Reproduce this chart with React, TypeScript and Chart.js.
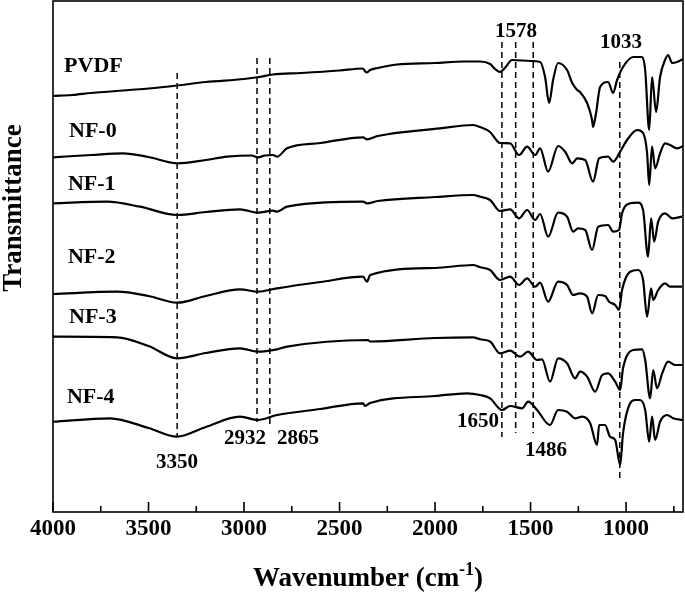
import React, { useEffect, useRef } from "react";
import { Chart, registerables } from "chart.js";

Chart.register(...registerables);

// ---- Data (x: wavenumber cm-1, y: transmittance, arbitrary offset units) ----
const pvdfWn = [4000,3900,3800,3700,3600,3500,3350,3200,3000,2920,2850,2700,2500,2380,2358,2340,2300,2200,2000,1850,1764,1712,1686,1660,1630,1597,1500,1450,1424,1403,1382,1356,1309,1282,1256,1241,1204,1178,1173,1157,1136,1094,1068,1047,1016,963,916,900,879,864,843,822,796,780,759,733,701];
const pvdfT = [416,417,419,420.5,422,423.5,426.5,430,433,435,437.5,439,441.5,443.5,439.5,442,444,447.5,449,450.5,450.5,448,443,440,445,452,451,450,435,409,432,449,442,429,422,420,409,392,385,399,425,430,419,432,445,455,455,442,382,435,400,435,452,457,449,450,453];

const nf0Wn = [4000,3800,3633,3500,3351,3200,3089,2960,2927,2890,2848,2827,2775,2600,2377,2356,2300,1974,1801,1764,1712,1660,1607,1560,1518,1476,1450,1408,1356,1319,1282,1256,1214,1173,1141,1094,1068,1031,995,942,911,890,879,864,848,822,796,770,733,701];
const nf0T = [354.7,357,358.7,355,348.7,352,355.3,356.5,354.7,356.5,357,355.3,363.7,369,374.7,372.7,376,383.7,387,385,380,369,368.7,357,365.3,357,363.7,340.3,366,360.3,348.7,353.7,352,330.3,353.7,355.3,350.3,360.3,372,382,379,359,327,365.3,343.7,358.7,368.7,367,363.7,366];

const nf1Wn = [4000,3717,3544,3351,3200,3021,2927,2848,2827,2775,2377,2356,2300,2000,1801,1764,1712,1660,1607,1560,1518,1476,1450,1408,1356,1309,1277,1251,1214,1178,1146,1094,1068,1037,1021,979,937,911,885,869,853,832,796,759,707];
const nf1T = [308.7,310.3,305.3,297,300,302.7,299.3,301.3,300.3,305.3,310.3,308.7,311,315,317,315.3,312,301,302.7,293.7,302,292,298,275.3,299.3,295.3,280.3,283.7,282,262,285.3,287,280.3,282,298.7,308.7,309.3,302,255.3,293.7,270.3,290.3,298.7,293.7,295.3];

const nf2Wn = [4000,3665,3500,3351,3200,3021,2927,2827,2600,2377,2356,2340,2000,1801,1764,1712,1660,1607,1560,1518,1476,1450,1408,1356,1309,1277,1241,1204,1178,1146,1110,1089,1057,1037,1021,979,937,911,890,869,858,832,796,770,707];
const nf2T = [218,220.3,216,209.3,216,222.7,220.3,223.7,230,235.3,230.3,237,244,247,244.7,242,232,235.3,227,233.7,225.3,229.3,210.3,230.3,227,217,218.7,215.3,198.7,217,216,210.3,207,202,222,240.3,242,232,195.3,223.7,212,222,228.7,225.3,225.3];

const nf3Wn = [4000,3665,3500,3351,3200,3021,2927,2827,2775,2351,2340,2000,1801,1764,1712,1660,1607,1555,1513,1466,1440,1398,1356,1309,1267,1241,1204,1162,1125,1094,1057,1031,1016,963,916,900,874,858,838,811,780,743,701];
const nf3T = [175.3,174.7,166,153.7,159,163.7,160.3,162.7,165.3,172,170.5,174,174.7,172.7,170.5,158.7,161.3,155.3,160.3,152,152.7,130.3,153.7,148.7,133.7,140.3,135.3,120.3,137,138.7,130.3,122,143.7,162,162.7,152,113.7,142,123.7,138.7,150.3,147,147];

const nf4Wn = [4000,3702,3500,3351,3200,3021,2927,2827,2600,2377,2366,2340,2000,1832,1764,1712,1649,1607,1544,1513,1466,1398,1356,1309,1267,1230,1188,1152,1141,1110,1084,1057,1031,1016,979,953,927,900,879,864,848,822,785,754,701];
const nf4T = [90.3,93.7,84,75.3,85,95.3,92,97,103,108.7,106,109,116,118.7,117,113.7,102,106,103.7,110.3,102,87,102,100.3,93.7,95.3,88.7,67,87,87,75.3,72,47,78.7,108.7,112,112,102,70.3,95.3,72,90.3,97,93.7,92];

const seriesNames = ["PVDF", "NF-0", "NF-1", "NF-2", "NF-3", "NF-4"];
const nameWn = [3942, 3916, 3922, 3922, 3916, 3927];
const nameT = [446, 381, 328, 255, 195, 115];

// Marked peaks (dashed lines)
const peakWn = [3350, 2932, 2865, 1650, 1578, 1486, 1033];
const peakTop = [439, 454, 454, 470, 470, 470, 450];
const peakBottom = [75, 90, 85, 75, 79, 79, 30];
const peakLabels = ["3350", "2932", "2865", "1650", "1578", "1486", "1033"];
const peakLabelWn = [3351, 2995, 2717, 1775, 1576, 1419, 1026];
const peakLabelT = [49, 73, 73, 90, 480, 61, 469];

// Axis ticks
const xMajorTicks = [4000, 3500, 3000, 2500, 2000, 1500, 1000];
const xMinorTicks = [3750, 3250, 2750, 2250, 1750, 1250, 750];
const xMin = 702;
const xMax = 4000;
const yMin = 0;
const yMax = 511;

const FONT = '"Liberation Serif", "Times New Roman", serif';

const decorPlugin = {
  id: "decor",
  afterDatasetsDraw(chart: any) {
    const { ctx, chartArea: a, scales } = chart;
    const x = scales.x;
    const y = scales.y;
    ctx.save();
    ctx.strokeStyle = "#000";
    ctx.fillStyle = "#000";
    ctx.lineWidth = 1.6;
    ctx.setLineDash([]);
    ctx.strokeRect(a.left, a.top, a.right - a.left, a.bottom - a.top);
    ctx.beginPath();
    for (const v of xMajorTicks) {
      const px = x.getPixelForValue(v);
      ctx.moveTo(px, a.bottom);
      ctx.lineTo(px, a.bottom - 10);
    }
    for (const v of xMinorTicks) {
      const px = x.getPixelForValue(v);
      ctx.moveTo(px, a.bottom);
      ctx.lineTo(px, a.bottom - 6);
    }
    ctx.stroke();

    // series names
    ctx.font = `bold 22px ${FONT}`;
    ctx.textAlign = "left";
    ctx.textBaseline = "middle";
    seriesNames.forEach((n, i) => {
      ctx.fillText(n, x.getPixelForValue(nameWn[i]), y.getPixelForValue(nameT[i]));
    });

    // peak labels
    ctx.font = `bold 21px ${FONT}`;
    ctx.textAlign = "center";
    peakLabels.forEach((t, i) => {
      ctx.fillText(t, x.getPixelForValue(peakLabelWn[i]), y.getPixelForValue(peakLabelT[i]));
    });

    // y title
    ctx.save();
    ctx.font = `bold 27px ${FONT}`;
    ctx.translate(14, a.top + (a.bottom - a.top) * 0.405);
    ctx.rotate(-Math.PI / 2);
    ctx.textAlign = "center";
    ctx.textBaseline = "middle";
    ctx.fillText("Transmittance", 0, 0);
    ctx.restore();

    // x title with superscript
    const main = "Wavenumber (cm";
    const sup = "-1";
    const close = ")";
    ctx.textAlign = "left";
    ctx.textBaseline = "alphabetic";
    ctx.font = `bold 27px ${FONT}`;
    const w1 = ctx.measureText(main).width;
    const w3 = ctx.measureText(close).width;
    ctx.font = `bold 18px ${FONT}`;
    const w2 = ctx.measureText(sup).width;
    const total = w1 + w2 + w3;
    const cx = (a.left + a.right) / 2;
    const base = 586;
    let sx = cx - total / 2;
    ctx.font = `bold 27px ${FONT}`;
    ctx.fillText(main, sx, base);
    sx += w1;
    ctx.font = `bold 18px ${FONT}`;
    ctx.fillText(sup, sx, base - 11);
    sx += w2;
    ctx.font = `bold 27px ${FONT}`;
    ctx.fillText(close, sx, base);
    ctx.restore();
  },
};

export default function App() {
  const ref = useRef<HTMLCanvasElement>(null);
  useEffect(() => {
    document.body.style.margin = "0";
    const spectra = [
      [pvdfWn, pvdfT],
      [nf0Wn, nf0T],
      [nf1Wn, nf1T],
      [nf2Wn, nf2T],
      [nf3Wn, nf3T],
      [nf4Wn, nf4T],
    ];
    const lineSets = spectra.map(([wn, t], i) => ({
      label: seriesNames[i],
      data: wn.map((w, k) => ({ x: w, y: t[k] })),
      borderColor: "#000",
      borderWidth: 2.2,
      pointRadius: 0,
      fill: false,
      cubicInterpolationMode: "monotone" as const,
    }));
    const peakSets = peakWn.map((w, i) => ({
      label: "peak " + peakLabels[i],
      data: [
        { x: w, y: peakTop[i] },
        { x: w, y: peakBottom[i] },
      ],
      borderColor: "#000",
      borderWidth: 1.5,
      borderDash: [6, 4],
      pointRadius: 0,
      fill: false,
    }));
    const chart = new Chart(ref.current!, {
      type: "line",
      data: { datasets: [...peakSets, ...lineSets] as any },
      options: {
        animation: false,
        responsive: false,
        devicePixelRatio: 1,
        layout: { padding: { left: 53, top: 1, right: 2, bottom: 0 } },
        plugins: { legend: { display: false }, tooltip: { enabled: false } },
        scales: {
          x: {
            type: "linear",
            reverse: true,
            min: xMin,
            max: xMax,
            afterBuildTicks: (s: any) => {
              s.ticks = xMajorTicks.map((v) => ({ value: v }));
            },
            afterFit: (s: any) => {
              s.height = 83;
            },
            grid: { display: false, drawTicks: false },
            border: { display: false },
            ticks: {
              autoSkip: false,
              maxRotation: 0,
              padding: 3,
              color: "#000",
              font: { family: FONT, size: 23, weight: "bold" },
              callback: (v: any) => String(v),
            },
          },
          y: {
            type: "linear",
            display: false,
            min: yMin,
            max: yMax,
          },
        },
      },
      plugins: [decorPlugin],
    });
    return () => chart.destroy();
  }, []);
  return (
    <div style={{ width: 685, height: 595 }}>
      <canvas ref={ref} width={685} height={595} style={{ display: "block" }} />
    </div>
  );
}
